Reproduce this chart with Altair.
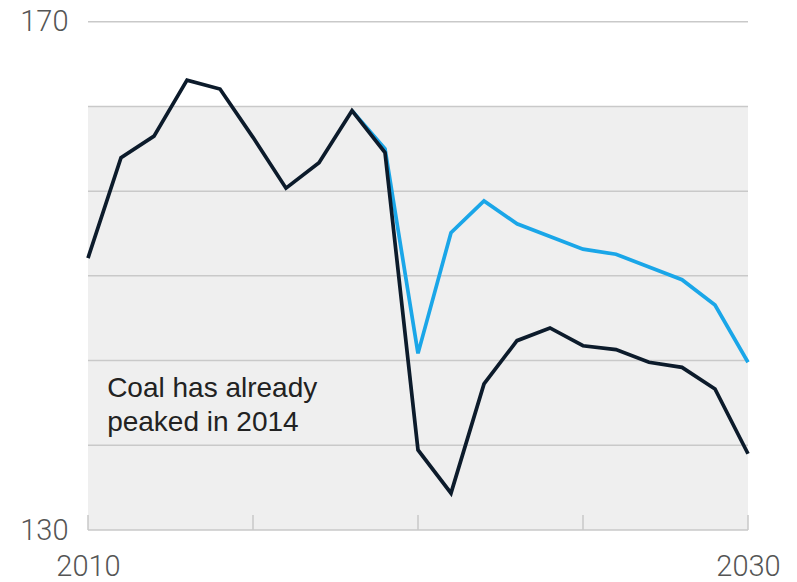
import altair as alt
import pandas as pd

years = list(range(2010, 2031))
coal = [151.4, 159.3, 161.0, 165.4, 164.7, 160.9, 156.9, 158.9, 163.0, 159.7,
        136.3, 132.9, 141.5, 144.9, 145.9, 144.5, 144.2, 143.2, 142.8, 141.1, 136.0]
alt_years = list(range(2018, 2031))
alt_vals = [163.0, 160.0, 143.9, 153.4, 155.9, 154.1, 153.1, 152.1, 151.7, 150.7, 149.7, 147.7, 143.2]

grid_vals = [130, 136.667, 143.333, 150, 156.667, 163.333, 170]
shade_top = 163.333
tick_years = [2010, 2015, 2020, 2025, 2030]
y_labels = [130, 170]
x_labels = [2010, 2030]
note = ["Coal has already", "peaked in 2014"]

df = pd.DataFrame({"year": years, "value": coal})
df_alt = pd.DataFrame({"year": alt_years, "value": alt_vals})
df_grid = pd.DataFrame({"v": grid_vals})
df_shade = pd.DataFrame({"x": [2010], "x2": [2030], "y": [130], "y2": [shade_top]})
df_ticks = pd.DataFrame({"year": tick_years, "y": [130] * 5, "y2": [131.18] * 5})
df_note = pd.DataFrame({"x": [2010.58], "y": [140.45], "t": [note]})

xs = alt.Scale(domain=[2010, 2030], nice=False, zero=False)
ys = alt.Scale(domain=[130, 170], nice=False, zero=False)

x_axis = alt.Axis(values=x_labels, grid=False, domain=False, ticks=False, labelFontSize=29,
                  labelFont="Roboto", labelFontWeight=300, labelColor="#555555", labelPadding=22,
                  title=None, format="d", labelFlush=False)
y_axis = alt.Axis(values=y_labels, grid=False, domain=False, ticks=False, labelFontSize=29,
                  labelFont="Roboto", labelFontWeight=300, labelColor="#555555", labelPadding=20,
                  title=None, labelBaseline="middle")

shade = alt.Chart(df_shade).mark_rect(color="#efefef").encode(
    x=alt.X("x:Q", scale=xs, axis=x_axis), x2="x2:Q",
    y=alt.Y("y:Q", scale=ys, axis=y_axis), y2="y2:Q")

grid = alt.Chart(df_grid).mark_rule(color="#c9c9c9", strokeWidth=1.5).encode(
    y=alt.Y("v:Q", scale=ys), x=alt.value(0), x2=alt.value(660))

ticks = alt.Chart(df_ticks).mark_rule(color="#c9c9c9", strokeWidth=1.5).encode(
    x=alt.X("year:Q", scale=xs), y=alt.Y("y:Q", scale=ys), y2="y2:Q")

blue = alt.Chart(df_alt).mark_line(color="#1aa6e8", strokeWidth=3.7, strokeJoin="miter").encode(
    x=alt.X("year:Q", scale=xs), y=alt.Y("value:Q", scale=ys))

black = alt.Chart(df).mark_line(color="#0c1b2b", strokeWidth=3.7, strokeJoin="miter").encode(
    x=alt.X("year:Q", scale=xs), y=alt.Y("value:Q", scale=ys))

text = alt.Chart(df_note).mark_text(align="left", baseline="alphabetic", fontSize=28,
                                     font="Liberation Sans", color="#222222", lineHeight=34).encode(
    x=alt.X("x:Q", scale=xs), y=alt.Y("y:Q", scale=ys), text="t")

chart = alt.layer(shade, grid, ticks, blue, black, text).properties(
    width=660, height=508.3,
    background="white",
    autosize=alt.AutoSizeParams(type="none"),
    padding={"left": 88, "top": 21.7, "right": 49, "bottom": 52},
).configure_view(stroke=None, strokeWidth=0)

chart.save("out.html", embed_options={"renderer": "svg", "actions": False})
